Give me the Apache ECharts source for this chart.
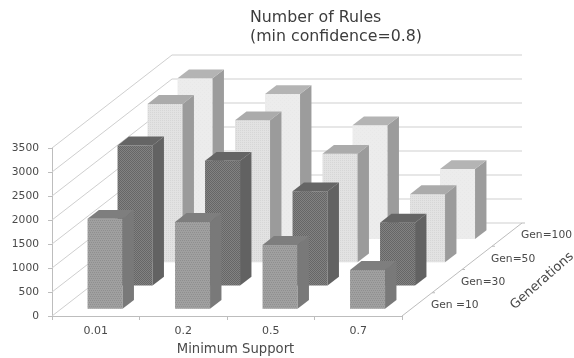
<!DOCTYPE html>
<html>
<head>
<meta charset="utf-8">
<style>html,body{margin:0;padding:0;background:#fff}#chart{width:574px;height:358px}</style>
<script src="https://cdn.jsdelivr.net/npm/echarts@6/dist/echarts.min.js"></script>
</head>
<body>
<div id="chart"></div>
<script>
// Rule counts per minimum support, one list per generation setting.
const supports = ['0.01', '0.2', '0.5', '0.7'];
const generations = ['Gen =10', 'Gen=30', 'Gen=50', 'Gen=100'];
const gen10 = [1875, 1810, 1330, 810];
const gen30 = [2920, 2600, 1965, 1310];
const gen50 = [3300, 2960, 2260, 1420];
const gen100 = [3350, 3020, 2370, 1460];
const rows = [gen10, gen30, gen50, gen100];
const valueTicks = [0, 500, 1000, 1500, 2000, 2500, 3000, 3500];

// Oblique projection: screen shift for one step along the generations axis.
const DEPTH = { x: 30, y: -23.25 };
const BAR_WIDTH = 0.4;
const BAR_DEPTH = 0.38;
const FONT = '"DejaVu Sans", sans-serif';
const WALL = '#cfcfcf';
const TEXT = '#4a4a4a';

// Small repeating tile used as the stippled front face of each bar row.
function tile(base, dot, cells) {
  const c = document.createElement('canvas');
  c.width = 4; c.height = 4;
  const g = c.getContext('2d');
  g.fillStyle = base; g.fillRect(0, 0, 4, 4);
  g.fillStyle = dot;
  cells.forEach(p => g.fillRect(p[0], p[1], 1, 1));
  return { image: c, repeat: 'repeat' };
}

const faces = [
  { front: tile('#a0a0a0', '#8f8f8f', [[0, 0], [2, 0], [1, 2], [3, 2]]), side: '#797979', top: '#7e7e7e' },
  { front: tile('#828282', '#666666', [[0, 0], [1, 1], [2, 0], [3, 1], [0, 2], [1, 3], [2, 2], [3, 3]]), side: '#626262', top: '#656565' },
  { front: tile('#e2e2e2', '#d6d6d6', [[0, 0], [2, 2], [2, 0], [0, 2]]), side: '#9b9b9b', top: '#ababab' },
  { front: tile('#ececec', '#e8e8e8', [[0, 0], [2, 2]]), side: '#9c9c9c', top: '#b4b4b4' }
];

function shift(p, d) {
  return [p[0] + DEPTH.x * d, p[1] + DEPTH.y * d];
}

function polygon(points, fill, z2) {
  return { type: 'polygon', shape: { points: points }, style: { fill: fill }, z2: z2 };
}

function barSeries(rowIndex) {
  const values = rows[rowIndex];
  return {
    type: 'custom',
    silent: true,
    z: 10 + (rows.length - rowIndex),
    data: values.map((v, i) => [i, v]),
    encode: { x: 0, y: 1 },
    renderItem(params, api) {
      const band = api.size([1, 0])[0];
      const half = band * BAR_WIDTH / 2;
      const base = api.coord([api.value(0), 0]);
      const top = api.coord([api.value(0), api.value(1)]);
      const near = rowIndex + (1 - BAR_DEPTH) / 2;
      const far = near + BAR_DEPTH;
      const corner = (p, dx, d) => shift([p[0] + dx, p[1]], d);
      const f = faces[rowIndex];
      return {
        type: 'group',
        children: [
          polygon([corner(top, -half, near), corner(top, half, near), corner(base, half, near), corner(base, -half, near)], f.front, 1),
          polygon([corner(top, half, near), corner(top, half, far), corner(base, half, far), corner(base, half, near)], f.side, 1),
          polygon([corner(top, -half, near), corner(top, -half, far), corner(top, half, far), corner(top, half, near)], f.top, 1)
        ]
      };
    }
  };
}

// Left wall and back wall gridlines, one pair per value tick.
const wallSeries = {
  type: 'custom',
  silent: true,
  z: 1,
  data: valueTicks.map(v => [0, v]),
  encode: { x: 0, y: 1 },
  renderItem(params, api) {
    const band = api.size([1, 0])[0];
    const p = api.coord([0, api.value(1)]);
    const left = [p[0] - band / 2, p[1]];
    const corner = shift(left, rows.length);
    const right = [corner[0] + band * supports.length, corner[1]];
    const line = (a, b) => ({
      type: 'line',
      shape: { x1: a[0], y1: a[1], x2: b[0], y2: b[1] },
      style: { stroke: WALL, lineWidth: 1 }
    });
    return { type: 'group', children: [line(left, corner), line(corner, right)] };
  }
};

// Floor edge on the right with its ticks and generation labels.
const depthAxisSeries = {
  type: 'custom',
  silent: true,
  z: 2,
  data: generations.map((g, i) => [supports.length - 1, i]),
  encode: { x: 0 },
  renderItem(params, api) {
    const band = api.size([1, 0])[0];
    const i = api.value(1);
    const p = api.coord([supports.length - 1, 0]);
    const edge = [p[0] + band / 2, p[1]];
    const a = shift(edge, i);
    const b = shift(edge, i + 1);
    const mid = shift(edge, i + 0.5);
    return {
      type: 'group',
      children: [
        { type: 'line', shape: { x1: a[0], y1: a[1], x2: b[0], y2: b[1] }, style: { stroke: '#bdbdbd', lineWidth: 1 } },
        { type: 'line', shape: { x1: b[0], y1: b[1], x2: b[0] + 3, y2: b[1] }, style: { stroke: '#bdbdbd', lineWidth: 1 } },
        { type: 'text', style: { text: generations[i], x: mid[0] + 14, y: mid[1] + 1, fill: TEXT, font: '10.7px ' + FONT, verticalAlign: 'middle' } }
      ]
    };
  }
};

const chart = echarts.init(document.getElementById('chart'), null, { renderer: 'canvas' });
chart.setOption({
  animation: false,
  backgroundColor: '#fff',
  title: {
    text: 'Number of Rules\n(min confidence=0.8)',
    left: 245,
    top: 3,
    textStyle: { fontFamily: FONT, fontSize: 15.8, fontWeight: 'normal', color: '#3c3c3c', lineHeight: 19 }
  },
  grid: { left: 52, top: 148, width: 350, height: 168, containLabel: false, outerBoundsMode: 'none' },
  xAxis: {
    type: 'category',
    data: supports,
    name: 'Minimum Support',
    nameLocation: 'middle',
    nameGap: 27,
    nameTextStyle: { fontFamily: FONT, fontSize: 13.2, color: TEXT, padding: [0, 0, 0, 17] },
    axisLine: { lineStyle: { color: '#bdbdbd' } },
    axisTick: { show: true, length: 4, lineStyle: { color: '#bdbdbd' } },
    axisLabel: { fontFamily: FONT, fontSize: 11, color: TEXT, margin: 10 }
  },
  yAxis: {
    type: 'value',
    min: 0,
    max: 3500,
    interval: 500,
    axisLine: { show: true, lineStyle: { color: '#bdbdbd' } },
    axisTick: { show: true, length: 4, lineStyle: { color: '#bdbdbd' } },
    splitLine: { show: false },
    axisLabel: { fontFamily: FONT, fontSize: 10.7, color: TEXT, margin: 13, formatter: v => String(v) }
  },
  graphic: [{
    type: 'text',
    x: 542,
    y: 281,
    rotation: 0.72,
    style: { text: 'Generations', fill: TEXT, font: '13px ' + FONT, align: 'center', verticalAlign: 'middle' }
  }],
  series: [wallSeries, depthAxisSeries].concat(rows.map((r, i) => barSeries(i)))
});
</script>
</body>
</html>
